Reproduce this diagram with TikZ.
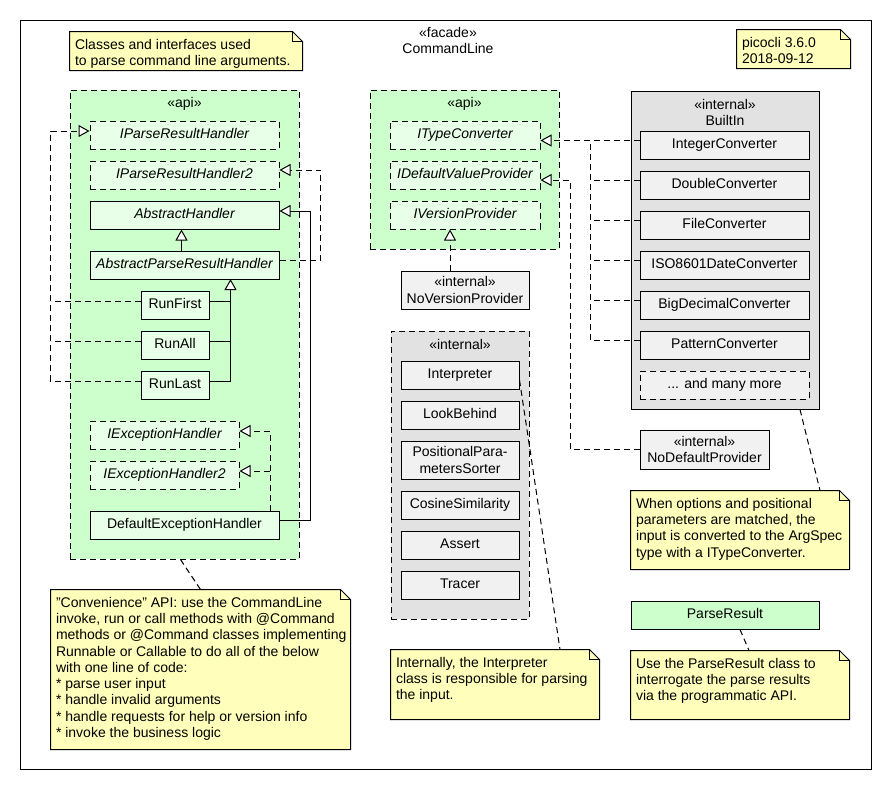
\documentclass[tikz,border=0pt]{standalone}
\usepackage{fontspec}
\setmainfont{Liberation Sans}
\usetikzlibrary{arrows.meta}
\definecolor{gpkg}{HTML}{CCFFCC}
\definecolor{gboxc}{HTML}{E8FFE8}
\definecolor{ypkg}{HTML}{E2E2E2}
\definecolor{yboxc}{HTML}{F1F1F1}
\definecolor{notec}{HTML}{FFFFBB}
\newcommand\mysz{\fontsize{14}{16.3}\selectfont}
\newcommand\unote[6]{%
  \node[inner sep=0, minimum width=#4pt, minimum height=#5pt] (#1) at (#2,#3) {};
  \draw[fill=notec] (#1.north west) -- ([xshift=-10pt]#1.north east) -- ([yshift=-10pt]#1.north east) -- (#1.south east) -- (#1.south west) -- cycle;
  \draw ([xshift=-10pt]#1.north east) |- ([yshift=-10pt]#1.north east);
  \node[anchor=north west, align=left, inner sep=0, font=\mysz] (#1t) at ([xshift=5pt,yshift=-7pt]#1.north west) {#6};
}
\tikzset{
  dsh/.style={dash pattern=on 6pt off 4pt},
  gen/.style={-{Triangle[length=11pt,width=12pt,fill=white]}},
  cls/.style={draw, inner sep=0, minimum height=28pt, text height=10pt, text depth=3pt, font=\mysz},
  cls2/.style={draw, inner sep=0, align=center, font=\mysz},
  gcls/.style={cls, fill=gboxc},
  icls/.style={gcls, font=\mysz\itshape},
  iicls/.style={icls, dsh},
  ycls/.style={cls, fill=yboxc},
  pkg/.style={draw, inner sep=0},
  lbl/.style={inner sep=0, align=center, font=\mysz},
}
\begin{document}
\begin{tikzpicture}[x=1pt,y=-1pt,line width=1pt]
\useasboundingbox (0,0) rectangle (890,790);
% frame
\node[draw, inner sep=0, minimum width=851pt, minimum height=749pt] (frame) at (445.5,394.5) {};
\node[lbl] (title) at (448,40.5) {«facade»\\CommandLine};
% notes top
\unote{nclasses}{186}{51}{232}{38}{Classes and interfaces used\\to parse command line arguments.}
\unote{nver}{793.5}{49}{113}{38}{picocli 3.6.0\\2018-09-12}
% packages
\node[pkg, dsh, fill=gpkg, minimum width=229pt, minimum height=469pt] (api1) at (184.5,324.5) {};
\node[lbl] (api1l) at (184.5,104) {«api»};
\node[pkg, dsh, fill=gpkg, minimum width=189pt, minimum height=159pt] (api2) at (464.5,169.5) {};
\node[lbl] (api2l) at (464.5,104) {«api»};
\node[pkg, fill=ypkg, minimum width=188pt, minimum height=318pt] (bi) at (725,250) {};
\node[lbl] (bil) at (725,112.5) {«internal»\\BuiltIn};
\node[pkg, dsh, fill=ypkg, minimum width=138pt, minimum height=288pt] (intp) at (460,475) {};
\node[lbl] (intpl) at (460,344) {«internal»};
% api1 classes
\node[iicls, minimum width=189pt] (iprh) at (184.5,135) {IParseResultHandler};
\node[iicls, minimum width=189pt] (iprh2) at (184.5,175) {IParseResultHandler2};
\node[icls, minimum width=189pt] (absh) at (184.5,215) {AbstractHandler};
\node[icls, minimum width=189pt] (aprh) at (184.5,265) {AbstractParseResultHandler};
\node[gcls, minimum width=68pt] (runfirst) at (175,305) {RunFirst};
\node[gcls, minimum width=68pt] (runall) at (175,345) {RunAll};
\node[gcls, minimum width=68pt] (runlast) at (175,385) {RunLast};
\node[iicls, minimum width=149pt] (ieh) at (164.5,435) {IExceptionHandler};
\node[iicls, minimum width=149pt] (ieh2) at (164.5,475) {IExceptionHandler2};
\node[gcls, minimum width=189pt] (deh) at (184.5,525) {DefaultExceptionHandler};
% api2 classes
\node[iicls, minimum width=150pt] (itc) at (465,135) {ITypeConverter};
\node[iicls, minimum width=150pt] (idvp) at (465,175) {IDefaultValueProvider};
\node[iicls, minimum width=150pt] (ivp) at (465,215) {IVersionProvider};
\node[cls2, fill=yboxc, minimum width=128pt, minimum height=38pt] (nvp) at (465,290) {«internal»\\NoVersionProvider};
% builtin
\node[ycls, minimum width=169pt] (intc) at (724.5,145) {IntegerConverter};
\node[ycls, minimum width=169pt] (dblc) at (724.5,185) {DoubleConverter};
\node[ycls, minimum width=169pt] (filec) at (724.5,225) {FileConverter};
\node[ycls, minimum width=169pt] (isoc) at (724.5,265) {ISO8601DateConverter};
\node[ycls, minimum width=169pt] (bigc) at (724.5,305) {BigDecimalConverter};
\node[ycls, minimum width=169pt] (patc) at (724.5,345) {PatternConverter};
\node[ycls, dsh, minimum width=169pt] (morec) at (724.5,385) {... and many more};
\node[cls2, fill=yboxc, minimum width=129pt, minimum height=39pt] (ndp) at (704.5,449.5) {«internal»\\NoDefaultProvider};
% internal
\node[ycls, minimum width=118pt] (interp) at (460,375) {Interpreter};
\node[ycls, minimum width=118pt] (lookb) at (460,415) {LookBehind};
\node[cls2, fill=yboxc, minimum width=118pt, minimum height=38pt] (pps) at (460,460) {PositionalPara-\\metersSorter};
\node[ycls, minimum width=118pt] (cos) at (460,505) {CosineSimilarity};
\node[ycls, minimum width=118pt] (asrt) at (460,545) {Assert};
\node[ycls, minimum width=118pt] (trc) at (460,585) {Tracer};
% parse result
\node[cls, fill=gpkg, minimum width=188pt] (pr) at (725,615) {ParseResult};
% notes
\unote{nbig}{200.5}{669.5}{299}{159}{"Convenience" API: use the CommandLine\\invoke, run or call methods with @Command\\methods or @Command classes implementing\\Runnable or Callable to do all of the below\\with one line of code:\\* parse user input\\* handle invalid arguments\\* handle requests for help or version info\\* invoke the business logic}
\unote{ninterp}{495}{684.5}{208}{69}{Internally, the Interpreter\\class is responsible for parsing\\the input.}
\unote{nbi}{740}{530}{218}{78}{When options and positional\\parameters are matched, the\\input is converted to the ArgSpec\\type with a ITypeConverter.}
\unote{npr}{740}{685}{218}{68}{Use the ParseResult class to\\interrogate the parse results\\via the programmatic API.}
% connectors api1
\draw[dsh] ([yshift=4pt]runfirst.west) -- ++(-90,0);
\draw[dsh] ([yshift=4pt]runall.west) -- ++(-90,0);
\draw[dsh,gen] ([yshift=4pt]runlast.west) -- ++(-90,0) |- ([yshift=4pt]iprh.west);
\draw ([yshift=4pt]runfirst.east) -- ++(21,0);
\draw ([yshift=4pt]runall.east) -- ++(21,0);
\draw[gen] ([yshift=4pt]runlast.east) -- ++(21,0) -- ++(0,-102);
\draw[gen] ([xshift=-3pt]aprh.north) -- ([xshift=-3pt]absh.south);
\draw[dsh,gen] ([yshift=5pt]aprh.east) -- ++(41,0) |- ([yshift=5pt]iprh2.east);
\draw[gen] ([yshift=5pt]deh.east) -- ++(31,0) |- ([yshift=4pt]absh.east);
\draw[dsh,gen] ([xshift=85.5pt]deh.north) |- ([yshift=4pt]ieh.east);
\draw[dsh,gen] ([xshift=85.5pt]deh.north) |- ([yshift=4pt]ieh2.east);
% connectors api2
\draw[dsh,gen] ([xshift=-15pt]nvp.north) -- ([xshift=-15pt]ivp.south);
\draw[dsh,gen] ([yshift=4.5pt]intc.west) -- ([yshift=-5.5pt]itc.east);
\draw[dsh] ([yshift=4.5pt]patc.west) -- ++(-49,0) -- ++(0,-200);
\foreach \n in {dblc,filec,isoc,bigc} \draw[dsh] ([yshift=4.5pt]\n.west) -- ++(-49,0);
\draw[dsh,gen] (ndp.west) -- ++(-69,0) |- ([yshift=-5pt]idvp.east);
% note connectors
\draw[dsh] ([xshift=-4pt]api1.south) -- (nbig.north);
\draw[dsh] ([xshift=75pt]bi.south) -- ([xshift=80pt]nbi.north);
\draw[dsh] ([yshift=-5pt]interp.east) -- ([xshift=65pt]ninterp.north);
\draw[dsh] ([xshift=15pt]pr.south) -- ([xshift=9pt]npr.north);
\end{tikzpicture}
\end{document}
